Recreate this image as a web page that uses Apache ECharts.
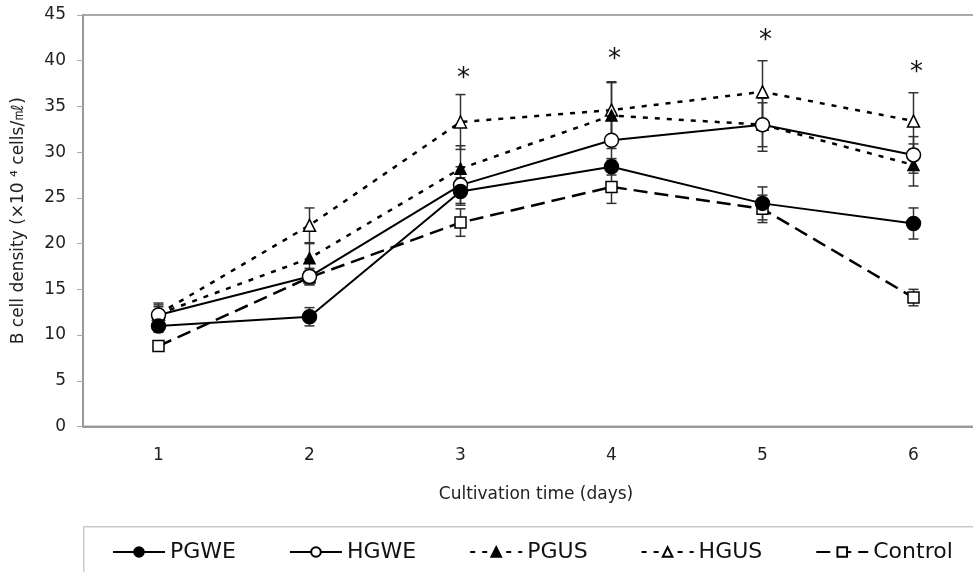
<!DOCTYPE html>
<html>
<head>
<meta charset="utf-8">
<script src="https://cdn.jsdelivr.net/npm/echarts@6/dist/echarts.min.js"></script>
<style>
  html, body { margin: 0; padding: 0; background: #fff; }
  #chart { width: 973px; height: 572px; }
</style>
</head>
<body>
<div id="chart"></div>
<script>
// values (x 10^4 cells/ml)
const days = ['1', '2', '3', '4', '5', '6'];

const pgwe = [11.0, 12.0, 25.7, 28.4, 24.4, 22.2];
const pgweErr = [0.7, 1.0, 1.5, 0.9, 1.8, 1.7];

const hgwe = [12.2, 16.4, 26.4, 31.3, 33.0, 29.7];
const hgweErr = [0.9, 0.9, 2.0, 2.2, 2.9, 2.0];

const pgus = [12.3, 18.4, 28.2, 34.0, 33.0, 28.6];
const pgusErr = [1.0, 1.6, 2.5, 3.6, 2.4, 2.3];

const hgus = [12.3, 22.0, 33.3, 34.6, 36.6, 33.4];
const hgusErr = [1.2, 1.9, 3.0, 3.1, 3.4, 3.1];

const control = [8.8, 16.3, 22.3, 26.2, 23.8, 14.1];
const controlErr = [0.5, 0.8, 1.5, 1.8, 1.5, 0.9];

// significance marks: y position of the asterisk per day
const stars = [null, null, 38.0, 40.1, 42.1, 38.6];

const FONT = '"DejaVu Sans", Verdana, sans-serif';

const chart = echarts.init(document.getElementById('chart'));

function errSeries(name, vals, errs) {
  return {
    name: name + ' err',
    type: 'custom',
    z: 1,
    silent: true,
    clip: false,
    data: vals.map((v, i) => [i, v, errs[i]]),
    renderItem: function (params, api) {
      const i = api.value(0), v = api.value(1), e = api.value(2);
      const top = api.coord([i, v + e]);
      const bot = api.coord([i, v - e]);
      const st = { stroke: '#333', lineWidth: 1.5 };
      return {
        type: 'group',
        children: [
          { type: 'line', shape: { x1: top[0], y1: top[1], x2: bot[0], y2: bot[1] }, style: st },
          { type: 'line', shape: { x1: top[0] - 5, y1: top[1], x2: top[0] + 5, y2: top[1] }, style: st },
          { type: 'line', shape: { x1: bot[0] - 5, y1: bot[1], x2: bot[0] + 5, y2: bot[1] }, style: st }
        ]
      };
    }
  };
}

function lineSeries(name, vals, symbol, size, fill, dash, width) {
  return {
    name: name,
    type: 'line',
    z: 3,
    data: vals,
    symbol: symbol,
    symbolSize: size,
    showAllSymbol: true,
    lineStyle: { color: '#000', width: width, type: dash },
    itemStyle: { color: fill, borderColor: '#000', borderWidth: 1.5, opacity: 1 }
  };
}

const option = {
  animation: false,
  backgroundColor: '#fff',
  textStyle: { fontFamily: FONT },
  grid: {
    left: 83, top: 15, width: 906, height: 411.5,
    outerBoundsMode: 'none',
    containLabel: false,
    show: true, borderColor: '#aaa', borderWidth: 2
  },
  graphic: [{
    type: 'rect',
    left: 83, top: 526,
    shape: { width: 920, height: 70 },
    style: { fill: '#fff', stroke: '#ccc', lineWidth: 1.5 },
    z: -1
  }],
  legend: {
    left: 107, top: 536,
    itemWidth: 52, itemHeight: 12, itemGap: 53,
    textStyle: { fontSize: 22, color: '#111', fontFamily: FONT },
    data: ['PGWE', 'HGWE', 'PGUS', 'HGUS', 'Control']
  },
  xAxis: {
    type: 'category',
    data: days,
    boundaryGap: true,
    name: 'Cultivation time (days)',
    nameLocation: 'middle',
    nameGap: 60,
    nameTextStyle: { fontSize: 17, color: '#222', fontFamily: FONT },
    axisLine: { lineStyle: { color: '#999', width: 2 } },
    axisTick: { inside: true, length: 5, lineStyle: { color: '#aaa' } },
    axisLabel: { fontSize: 17, color: '#222', margin: 21, fontFamily: FONT },
    splitLine: { show: false }
  },
  yAxis: {
    type: 'value',
    min: 0, max: 45, interval: 5,
    name: 'B cell density (×10 ⁴ cells/㎖)',
    nameLocation: 'middle',
    nameGap: 56,
    nameRotate: 90,
    nameTextStyle: { fontSize: 17, color: '#222', fontFamily: FONT },
    axisLine: { show: true, lineStyle: { color: '#999', width: 2 } },
    axisTick: { show: true, length: 6, lineStyle: { color: '#aaa' } },
    axisLabel: { fontSize: 17, color: '#222', margin: 17, fontFamily: FONT },
    splitLine: { show: false }
  },
  series: [
    errSeries('PGWE', pgwe, pgweErr),
    errSeries('HGWE', hgwe, hgweErr),
    errSeries('PGUS', pgus, pgusErr),
    errSeries('HGUS', hgus, hgusErr),
    errSeries('Control', control, controlErr),
    lineSeries('Control', control, 'rect', 11, '#fff', [14, 7], 2.5),
    lineSeries('HGUS', hgus, 'triangle', 12, '#fff', [5, 7], 2.5),
    lineSeries('PGUS', pgus, 'triangle', 11, '#000', [5, 7], 2.5),
    lineSeries('HGWE', hgwe, 'circle', 14, '#fff', 'solid', 2),
    lineSeries('PGWE', pgwe, 'circle', 14, '#000', 'solid', 2),
    {
      name: 'stars',
      type: 'custom',
      z: 4,
      silent: true,
      clip: false,
      data: stars.map((v, i) => [i, v]).filter(d => d[1] !== null),
      renderItem: function (params, api) {
        const p = api.coord([api.value(0), api.value(1)]);
        return {
          type: 'text',
          x: p[0] + 3, y: p[1],
          style: {
            text: '*', fontSize: 26, fill: '#111', fontFamily: FONT,
            align: 'center', verticalAlign: 'middle'
          }
        };
      }
    }
  ]
};

chart.setOption(option);
</script>
</body>
</html>
